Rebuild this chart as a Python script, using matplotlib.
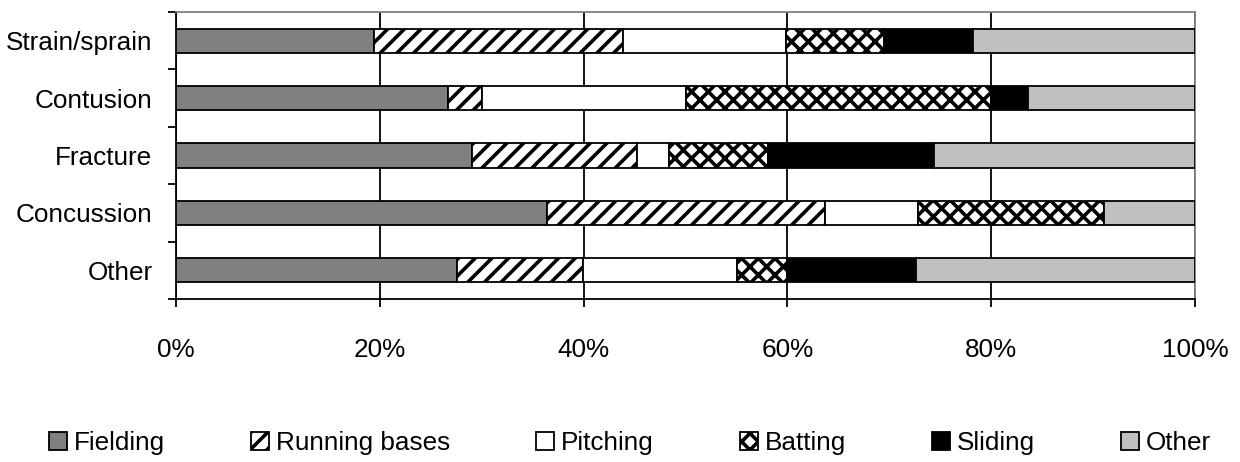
import numpy as np
import matplotlib.pyplot as plt
from matplotlib.ticker import FixedLocator

# 字体与线宽
plt.rcParams['font.family'] = ['Liberation Sans', 'DejaVu Sans']
plt.rcParams['hatch.linewidth'] = 2.6

# 数据 (百分比, 每行合计 100)
categories = ['Strain/sprain', 'Contusion', 'Fracture', 'Concussion', 'Other']
fielding = [19.4, 26.7, 29.0, 36.4, 27.6]
running_bases = [24.5, 3.3, 16.2, 27.3, 12.3]
pitching = [16.0, 20.0, 3.2, 9.1, 15.2]
batting = [9.6, 30.0, 9.7, 18.3, 4.9]
sliding = [8.7, 3.6, 16.3, 0.0, 12.6]
other = [21.8, 16.4, 25.6, 8.9, 27.4]

series_names = ['Fielding', 'Running bases', 'Pitching', 'Batting', 'Sliding', 'Other']
series_values = [fielding, running_bases, pitching, batting, sliding, other]
series_colors = ['#808080', 'white', 'white', 'white', 'black', '#c0c0c0']
series_hatches = [None, '//', None, 'xx', None, None]
tick_values = [0, 20, 40, 60, 80, 100]
tick_labels = ['0%', '20%', '40%', '60%', '80%', '100%']

fig = plt.figure(figsize=(12.4, 4.62), dpi=100)
ax = fig.add_axes([176 / 1240, 1 - 299 / 462, (1195 - 176) / 1240, (299 - 12) / 462])

y = np.arange(len(categories))[::-1]
left = np.zeros(len(categories))
for name, vals, color, hatch in zip(series_names, series_values, series_colors, series_hatches):
    vals = np.array(vals)
    ax.barh(y, vals, left=left, height=0.42, color=color, edgecolor='black',
            linewidth=1.3, hatch=hatch, label=name, zorder=3)
    left += vals

# 坐标轴
ax.set_xlim(0, 100)
ax.set_ylim(-0.5, len(categories) - 0.5)
ax.set_xticks(tick_values)
ax.set_xticklabels(tick_labels, fontsize=18.8)
ax.tick_params(axis='x', direction='out', length=6, width=1.3, pad=22)
ax.set_yticks(y)
ax.set_yticklabels(categories, fontsize=18.8)
ax.tick_params(axis='y', which='major', length=0, pad=17)
ax.yaxis.set_minor_locator(FixedLocator(np.arange(-0.5, len(categories), 1.0)))
ax.tick_params(axis='y', which='minor', direction='out', length=6, width=1.3)

ax.grid(axis='x', color='black', linewidth=1.3, zorder=0)
ax.set_axisbelow(True)
for s in ['top', 'right']:
    ax.spines[s].set_color('#808080')
    ax.spines[s].set_linewidth(1.3)
for s in ['left', 'bottom']:
    ax.spines[s].set_color('black')
    ax.spines[s].set_linewidth(1.3)

fig.legend(loc='center', bbox_to_anchor=(0.508, 1 - 443 / 462), ncol=6, frameon=False,
           fontsize=18.8, handlelength=0.7, handleheight=0.7, handletextpad=0.25,
           columnspacing=3.3)

fig.savefig('out.png', dpi=100)
